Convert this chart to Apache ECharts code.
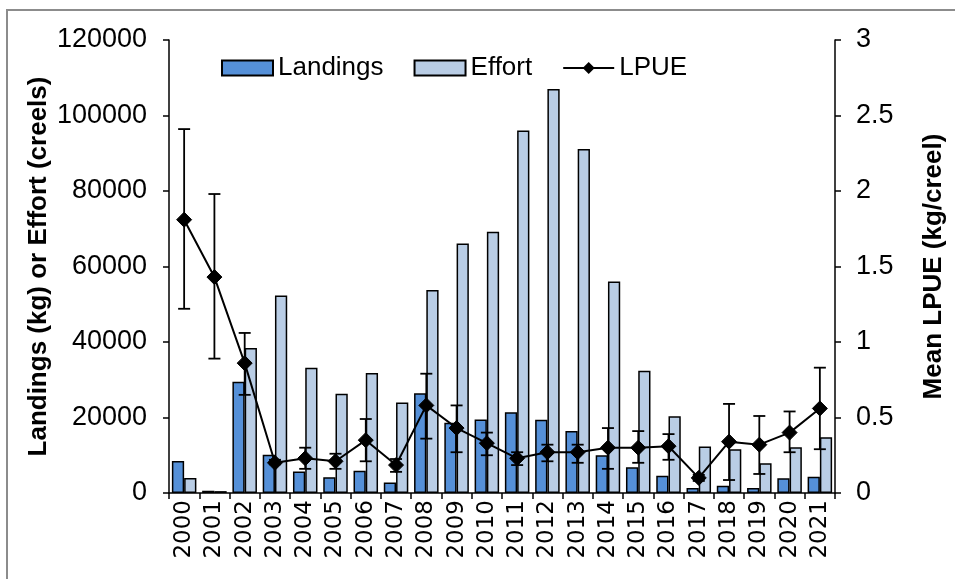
<!DOCTYPE html>
<html>
<head>
<meta charset="utf-8">
<script src="https://cdn.jsdelivr.net/npm/echarts@6/dist/echarts.min.js"></script>
<style>
  html, body { margin: 0; padding: 0; background: #fff; }
  #chart { width: 955px; height: 579px; }
</style>
</head>
<body>
<div id="chart"></div>
<script>
  // values
  var years = ['2000','2001','2002','2003','2004','2005','2006','2007','2008','2009','2010',
               '2011','2012','2013','2014','2015','2016','2017','2018','2019','2020','2021'];
  var landings = [8500, 600, 29500, 10100, 5700, 4200, 5900, 2800, 26400, 18600, 19500,
                  21400, 19400, 16400, 10000, 6800, 4600, 1300, 1900, 1300, 3900, 4300];
  var effort = [4000, 500, 38400, 52300, 33200, 26300, 31800, 24000, 53800, 66100, 69200,
                96000, 107000, 91100, 56000, 32400, 20300, 12300, 11600, 7900, 12100, 14800];
  var lpue = [1.81, 1.43, 0.86, 0.20, 0.23, 0.21, 0.35, 0.185, 0.58, 0.43, 0.33,
              0.23, 0.27, 0.27, 0.30, 0.30, 0.31, 0.10, 0.34, 0.32, 0.40, 0.56];
  var lpueHigh = [2.41, 1.98, 1.06, 0.22, 0.30, 0.26, 0.49, 0.225, 0.79, 0.58, 0.40,
                  0.27, 0.32, 0.32, 0.43, 0.41, 0.39, 0.12, 0.59, 0.51, 0.54, 0.83];
  var lpueLow = [1.22, 0.89, 0.65, 0.19, 0.16, 0.16, 0.21, 0.14, 0.36, 0.27, 0.25,
                 0.185, 0.21, 0.20, 0.16, 0.20, 0.22, 0.08, 0.086, 0.126, 0.27, 0.29];

  var font = '"Liberation Sans", Arial, sans-serif';
  var black = '#000';

  var errData = years.map(function (y, i) { return [i, lpueLow[i], lpueHigh[i]]; });

  var myChart = echarts.init(document.getElementById('chart'));
  myChart.setOption({
    animation: false,
    backgroundColor: '#fff',
    textStyle: { fontFamily: font, color: black },
    graphic: [{
      type: 'rect',
      shape: { x: 7, y: 10, width: 1000, height: 1000 },
      style: { fill: 'none', stroke: '#8c8c8c', lineWidth: 2 },
      silent: true
    }],
    grid: { left: 169, right: 106, top: 40, bottom: 86 },
    legend: {
      left: 216,
      top: 50,
      itemWidth: 51,
      itemHeight: 15,
      itemGap: 30,
      textStyle: { fontSize: 26, color: black, fontFamily: font },
      data: [
        { name: 'Landings', icon: 'rect' },
        { name: 'Effort', icon: 'rect' },
        { name: 'LPUE' }
      ]
    },
    xAxis: {
      type: 'category',
      data: years,
      boundaryGap: true,
      axisLine: { lineStyle: { color: black, width: 1.5 } },
      axisTick: { show: true, length: 6, lineStyle: { color: black, width: 1.5 } },
      axisLabel: { rotate: 90, fontSize: 23, color: black, interval: 0, margin: 7,
                   fontFamily: '"DejaVu Sans", sans-serif' }
    },
    yAxis: [{
      type: 'value',
      min: 0,
      max: 120000,
      interval: 20000,
      name: 'Landings (kg) or Effort (creels)',
      nameLocation: 'middle',
      nameRotate: 90,
      nameGap: 117,
      nameMoveOverlap: false,
      nameTextStyle: { fontSize: 26, fontWeight: 'bold', color: black, fontFamily: font },
      axisLine: { show: true, lineStyle: { color: black, width: 1.5 } },
      axisTick: { show: true, length: 6, lineStyle: { color: black, width: 1.5 } },
      splitLine: { show: false },
      axisLabel: { fontSize: 27, color: black, margin: 22, fontFamily: font,
                   formatter: function (v) { return String(v); } }
    }, {
      type: 'value',
      min: 0,
      max: 3,
      interval: 0.5,
      position: 'right',
      name: 'Mean LPUE (kg/creel)',
      nameLocation: 'middle',
      nameRotate: 90,
      nameGap: 86,
      nameTextStyle: { fontSize: 26, fontWeight: 'bold', color: black, fontFamily: font },
      axisLine: { show: true, lineStyle: { color: black, width: 1.5 } },
      axisTick: { show: true, length: 6, lineStyle: { color: black, width: 1.5 } },
      splitLine: { show: false },
      axisLabel: { fontSize: 27, color: black, margin: 21, fontFamily: font }
    }],
    series: [{
      name: 'Landings',
      type: 'bar',
      data: landings,
      barGap: '0%',
      barCategoryGap: '19%',
      itemStyle: { color: '#5590d8', borderColor: black, borderWidth: 1.5 }
    }, {
      name: 'Effort',
      type: 'bar',
      data: effort,
      itemStyle: { color: '#b9cde5', borderColor: black, borderWidth: 1.5 }
    }, {
      name: 'errors',
      type: 'custom',
      yAxisIndex: 1,
      z: 5,
      silent: true,
      data: errData,
      renderItem: function (params, api) {
        var x = api.value(0);
        var lo = api.coord([x, api.value(1)]);
        var hi = api.coord([x, api.value(2)]);
        var cap = 6;
        var st = { stroke: black, lineWidth: 1.8 };
        return {
          type: 'group',
          children: [
            { type: 'line', shape: { x1: lo[0], y1: lo[1], x2: hi[0], y2: hi[1] }, style: st },
            { type: 'line', shape: { x1: hi[0] - cap, y1: hi[1], x2: hi[0] + cap, y2: hi[1] }, style: st },
            { type: 'line', shape: { x1: lo[0] - cap, y1: lo[1], x2: lo[0] + cap, y2: lo[1] }, style: st }
          ]
        };
      }
    }, {
      name: 'LPUE',
      type: 'line',
      yAxisIndex: 1,
      z: 6,
      data: lpue,
      symbol: 'diamond',
      symbolSize: 15,
      lineStyle: { color: black, width: 2 },
      itemStyle: { color: black, borderColor: black }
    }]
  });
</script>
</body>
</html>
